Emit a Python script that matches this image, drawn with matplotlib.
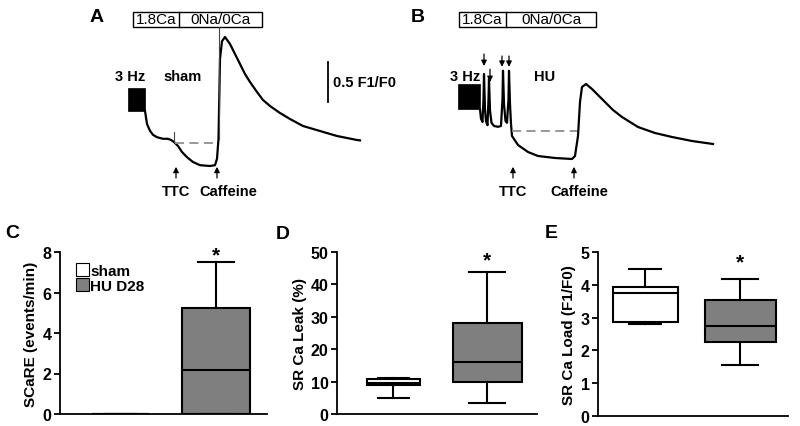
import matplotlib
matplotlib.use('Agg')
import matplotlib.pyplot as plt
from matplotlib.patches import Rectangle, Patch

plt.rcParams['font.family'] = ['Liberation Sans', 'DejaVu Sans']
plt.rcParams['font.weight'] = 'bold'

# ---- traces (time in s, fluorescence F1/F0) ----
# sham
pace_t_A = [14.0, 22.5]
pace_lo_A = 1.69
pace_hi_A = 1.975
t_A = [22.5, 23.5, 25, 26.5, 28.5, 31.5, 34, 35.5, 37.0, 39, 41, 43.5, 46.5, 50, 55,
       57.5, 58.5, 59.25, 60, 61, 62.5, 65, 67.5, 70, 72.5, 75, 78.5, 81.5, 85, 90, 95,
       101.5, 110, 118.5, 128.5, 130]
f_A = [1.69, 1.525, 1.44, 1.39, 1.36, 1.34, 1.34, 1.325, 1.30, 1.25, 1.175, 1.11, 1.05,
       1.01, 1.0, 1.01, 1.09, 1.34, 2.34, 2.56, 2.6125, 2.525, 2.40, 2.275, 2.15, 2.05, 1.925,
       1.825, 1.75, 1.6625, 1.5875, 1.50, 1.4375, 1.375, 1.325, 1.32]
# solution-switch artefacts (time, from, to)
art_A = [(37.0, 1.30, 1.43), (59.5, 1.34, 2.74)]
# HU
pace_t_B = [19.0, 30.0]
pace_lo_B = 1.71
pace_hi_B = 2.025
t_B = [30, 30.5, 31.25, 31.75, 32, 32.5, 33, 33.75, 34.25, 34.5, 35, 35.75, 37, 39, 40.5, 41.25,
       41.5, 42, 42.75, 43.5, 44.25, 44.5, 45, 45.5, 46, 49, 54, 59, 67.5, 76, 77.5, 79, 80, 81, 83,
       86, 92.5, 96.5, 101, 109, 117.5, 126, 136, 146.5]
f_B = [1.71, 1.59, 1.55, 1.84, 2.15, 1.71, 1.56, 1.51, 1.84, 2.09, 1.69, 1.54, 1.50, 1.49, 1.50,
       1.84, 2.19, 1.775, 1.5625, 1.54, 1.84, 2.19, 1.775, 1.525, 1.375, 1.2625, 1.175, 1.125, 1.10,
       1.0875, 1.125, 1.375, 1.80, 1.9875, 2.025, 1.9625, 1.80, 1.70, 1.6125, 1.4875, 1.4125,
       1.3625, 1.3125, 1.275]

# solution bars
sol_edges_A = [16.4, 39.5, 81.0]
sol_edges_B = [19.5, 43.0, 88.0]
sol_y = [2.7375, 2.925]
sol_labels = ['1.8Ca', '0Na/0Ca']

# dashed diastolic level
dash_A = ([37.5, 58.5], 1.2875)
dash_B = ([46.0, 78.5], 1.4375)

# marks
ttc_caf_A = [38.0, 58.5]
ttc_caf_B = [46.5, 77.0]
scare_t = [32.0, 35.0, 41.0, 44.5]
scare_top = [2.40, 2.21, 2.375, 2.375]
scare_tip = [2.25, 2.05, 2.24, 2.24]

# ---- box plot statistics ----
groups = ['sham', 'HU D28']
scare_stats = dict(whislo=[0, 0], q1=[0, 0], med=[0, 2.19], q3=[0, 5.22], whishi=[0, 7.49])
leak_stats = dict(whislo=[5.0, 3.3], q1=[8.8, 9.8], med=[9.5, 16.1], q3=[10.8, 28.1], whishi=[11.2, 43.9])
load_stats = dict(whislo=[2.80, 1.56], q1=[2.875, 2.265], med=[3.75, 2.73], q3=[3.94, 3.54], whishi=[4.48, 4.18])

box_colors = ['white', '#7f7f7f']

fig = plt.figure(figsize=(8, 4.27), dpi=100)
W, H = 800.0, 427.0

arrow_kw = dict(arrowstyle='-|>', color='black', lw=0.9, mutation_scale=8, shrinkA=0, shrinkB=0)


def trace_axes(left_px):
    ax = fig.add_axes([left_px / W, 1 - 200 / H, 300 / W, 200 / H])
    ax.set_xlim(0, 150)
    ax.set_ylim(0.5875, 3.0875)
    ax.axis('off')
    return ax


def draw_trace(ax, pace_t, lo, hi, t, f, edges, dash, marks, label_t, label):
    ax.fill_between(pace_t, [lo, lo], [hi, hi], color='black', lw=0.5)
    ax.plot(t, f, color='black', lw=1.6, solid_joinstyle='round')
    ax.plot(dash[0], [dash[1], dash[1]], color='#909090', lw=1.3, ls=(0, (5, 3)))
    ax.add_patch(Rectangle((edges[0], sol_y[0]), edges[2] - edges[0], sol_y[1] - sol_y[0],
                           fill=False, lw=1.0, clip_on=False))
    ax.plot([edges[1], edges[1]], sol_y, color='black', lw=1.0, clip_on=False)
    for i in range(2):
        ax.text((edges[i] + edges[i + 1]) / 2, sum(sol_y) / 2, sol_labels[i], ha='center',
                va='center', fontsize=11, fontweight='normal')
    for m in marks:
        ax.annotate('', xy=(m, 0.99), xytext=(m, 0.85), arrowprops=arrow_kw)
    ax.text(marks[0], 0.69, 'TTC', ha='center', va='center', fontsize=10.5)
    ax.text(label_t[2], 0.69, 'Caffeine', ha='center', va='center', fontsize=10.5)
    ax.text(label_t[0], 2.125, '3 Hz', ha='center', va='center', fontsize=10.5)
    ax.text(label_t[1], 2.125, label, ha='center', va='center', fontsize=10.5)


axA = trace_axes(100)
draw_trace(axA, pace_t_A, pace_lo_A, pace_hi_A, t_A, f_A, sol_edges_A, dash_A, ttc_caf_A,
           [15.0, 41.5, 64.0], 'sham')
for x, y0, y1 in art_A:
    axA.plot([x, x], [y0, y1], color='#444444', lw=0.8)
axA.plot([114, 114], [1.8, 2.3], color='black', lw=1.3)
axA.text(116.5, 2.05, '0.5 F1/F0', ha='left', va='center', fontsize=10.5)

axB = trace_axes(420)
draw_trace(axB, pace_t_B, pace_lo_B, pace_hi_B, t_B, f_B, sol_edges_B, dash_B, ttc_caf_B,
           [22.5, 62.5, 79.5], 'HU')
for x, y0, y1 in zip(scare_t, scare_top, scare_tip):
    axB.annotate('', xy=(x, y1), xytext=(x, y0), arrowprops=arrow_kw)


def box_axes(rect, stats, ylim, yticks, ylabel, xlim, widths, star_y):
    ax = fig.add_axes(rect)
    bx = []
    for i in range(2):
        bx.append(dict(whislo=stats['whislo'][i], q1=stats['q1'][i], med=stats['med'][i],
                       q3=stats['q3'][i], whishi=stats['whishi'][i], fliers=[], label=groups[i]))
    parts = ax.bxp(bx, positions=[1, 2], widths=widths, patch_artist=True, showfliers=False,
                   boxprops=dict(lw=1.5, edgecolor='black'),
                   medianprops=dict(color='black', lw=1.5),
                   whiskerprops=dict(lw=1.5), capprops=dict(lw=1.5), capwidths=[0.33, 0.38])
    for p, c in zip(parts['boxes'], box_colors):
        p.set_facecolor(c)
    ax.set_xlim(*xlim)
    ax.set_ylim(*ylim)
    ax.set_yticks(yticks)
    ax.set_xticks([])
    ax.spines['top'].set_visible(False)
    ax.spines['right'].set_visible(False)
    ax.spines['left'].set_linewidth(1.3)
    ax.spines['bottom'].set_linewidth(1.3)
    ax.tick_params(axis='y', direction='out', length=4, width=1.3, labelsize=11.5, pad=2)
    for lab in ax.get_yticklabels():
        lab.set_fontweight('bold')
    ax.set_ylabel(ylabel, fontsize=11, fontweight='bold', labelpad=3)
    ax.text(2, star_y, '*', ha='center', va='center', fontsize=15, fontweight='bold')
    return ax


axC = box_axes([60 / W, 12 / H, 207 / W, 162 / H], scare_stats, (0, 8), range(0, 9, 2),
               'SCaRE (events/min)', (0.36, 2.54), [0.6, 0.72], 7.85)
axC.legend(handles=[Patch(facecolor=c, edgecolor='black', lw=0.8) for c in box_colors],
           labels=['sham', 'HU D28'], loc='upper left', bbox_to_anchor=(0.05, 0.97),
           frameon=False, handlelength=0.8, handleheight=0.9, handletextpad=0.1,
           labelspacing=0.05, borderaxespad=0, prop=dict(size=11, weight='bold'))

axD = box_axes([337 / W, 12 / H, 200 / W, 162 / H], leak_stats, (0, 50), range(0, 51, 10),
               'SR Ca Leak (%)', (0.40, 2.53), [0.56, 0.73], 47.5)

axE = box_axes([598 / W, 10 / H, 190 / W, 164 / H], load_stats, (0, 5), range(0, 6),
               'SR Ca Load (F1/F0)', (0.505, 2.5), [0.68, 0.74], 4.7)

for x, y, s in [(97, 18, 'A'), (418, 18, 'B'), (12, 233, 'C'), (283, 235, 'D'), (551, 233, 'E')]:
    fig.text(x / W, 1 - y / H, s, ha='center', va='center', fontsize=14, fontweight='bold')

fig.savefig('out.png', dpi=100)
